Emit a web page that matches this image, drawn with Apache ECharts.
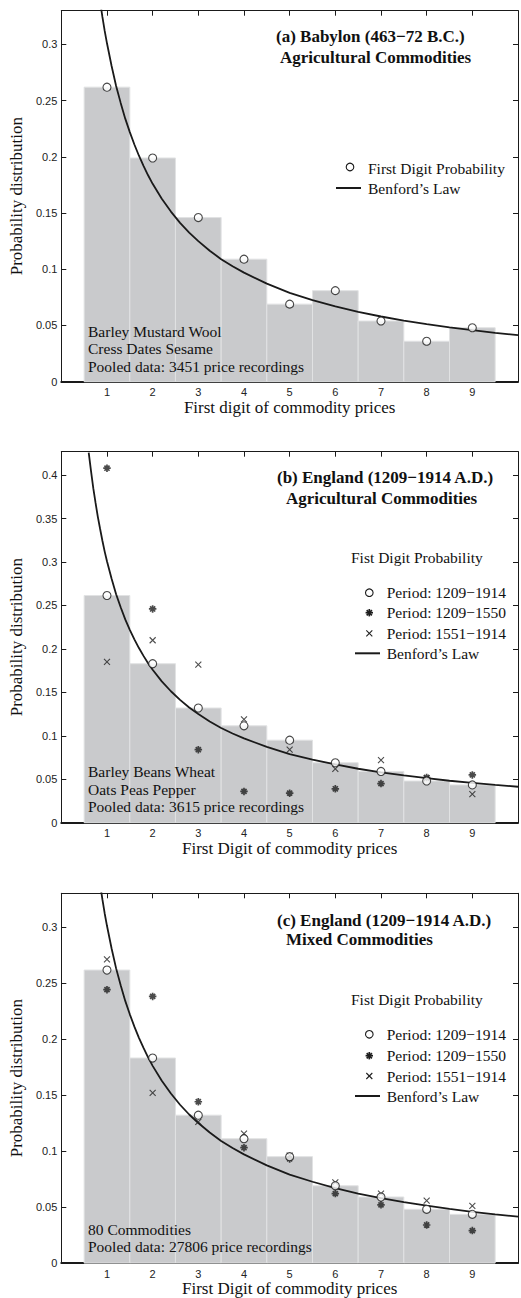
<!DOCTYPE html>
<html>
<head>
<meta charset="utf-8">
<script src="https://cdn.jsdelivr.net/npm/echarts@6/dist/echarts.min.js"></script>
<style>
html, body { margin: 0; padding: 0; background: #fff; }
#chart { width: 521px; height: 1298px; }
</style>
</head>
<body>
<div id="chart"></div>
<script>
// first digits 1..9
const digits = [1, 2, 3, 4, 5, 6, 7, 8, 9];

// (a) Babylon, pooled first digit probability
const babylonProb = [0.262, 0.199, 0.146, 0.109, 0.069, 0.081, 0.054, 0.036, 0.048];

// (b) England agricultural
const agriPooled = [0.2615, 0.183, 0.132, 0.1115, 0.095, 0.069, 0.059, 0.048, 0.0435];
const agriEarly = [0.408, 0.246, 0.084, 0.036, 0.034, 0.039, 0.045, 0.052, 0.055];
const agriLate = [0.185, 0.210, 0.182, 0.119, 0.084, 0.062, 0.072, 0.051, 0.033];

// (c) England mixed
const mixedPooled = [0.2615, 0.183, 0.132, 0.111, 0.095, 0.069, 0.059, 0.048, 0.0435];
const mixedEarly = [0.244, 0.238, 0.144, 0.103, 0.093, 0.062, 0.052, 0.034, 0.029];
const mixedLate = [0.271, 0.152, 0.126, 0.1155, 0.096, 0.072, 0.062, 0.0557, 0.051];

// Benford curve
const benfordX = [0.6, 0.65, 0.7, 0.75, 0.8, 0.85, 0.9, 0.95, 1, 1.1, 1.2, 1.3, 1.4, 1.5, 1.6, 1.7, 1.8, 1.9,
    2, 2.2, 2.4, 2.6, 2.8, 3, 3.25, 3.5, 3.75, 4, 4.5, 5, 5.5, 6, 6.5, 7, 7.5, 8, 8.5, 9, 9.5, 10];
const benfordY = [0.426, 0.405, 0.385, 0.368, 0.352, 0.338, 0.3245, 0.312, 0.301, 0.281, 0.263, 0.248, 0.234, 0.222, 0.211, 0.201, 0.192, 0.1836,
    0.176, 0.1627, 0.1513, 0.1413, 0.1326, 0.125, 0.1165, 0.109, 0.1027, 0.097, 0.0872, 0.079, 0.0726, 0.067, 0.0621, 0.058, 0.0544, 0.0512, 0.0483, 0.0458, 0.0435, 0.0414];

const SERIF = '"Liberation Serif", "DejaVu Serif", serif';
const SANS = '"Liberation Sans", Arial, sans-serif';
const INK = '#1a1a1a';
const STAR = 'path://M5 0 L5 10 M0 5 L10 5 M1.6 1.6 L8.4 8.4 M1.6 8.4 L8.4 1.6';
const CROSS = 'path://M0 0 L10 10 M0 10 L10 0';

const panels = [
    { top: 10.7, height: 371, yMax: 0.33, xName: 'First digit of commodity prices',
      pooled: babylonProb, early: null, late: null },
    { top: 451.7, height: 371, yMax: 0.427, xName: 'First Digit of commodity prices',
      pooled: agriPooled, early: agriEarly, late: agriLate },
    { top: 893.3, height: 371.7, yMax: 0.33, xName: 'First Digit of commodity prices',
      pooled: mixedPooled, early: mixedEarly, late: mixedLate },
];

function pairs(ys) {
    return digits.map((d, i) => [d, ys[i]]);
}

function renderBar(params, api) {
    const x = api.value(0);
    const y = api.value(1);
    const p0 = api.coord([x - 0.5, y]);
    const p1 = api.coord([x + 0.5, 0]);
    return {
        type: 'rect',
        shape: { x: p0[0], y: p0[1], width: p1[0] - p0[0], height: p1[1] - p0[1] },
        style: { fill: '#c9cacc', stroke: '#e1e2e3', lineWidth: 1 }
    };
}

const grid = [], xAxis = [], yAxis = [], series = [];

panels.forEach((p, k) => {
    grid.push({ left: 56, width: 467, top: p.top, height: p.height, show: false });
    const tick = { show: true, inside: true, length: 5, lineStyle: { color: INK, width: 1 } };
    // bottom + top x axes
    xAxis.push({
        type: 'value', gridIndex: k, min: 0, max: 10, interval: 1, position: 'bottom',
        axisLine: { show: true, onZero: false, lineStyle: { color: INK, width: 2 } },
        axisTick: tick, splitLine: { show: false },
        axisLabel: { margin: 5, fontFamily: SANS, fontSize: 11, color: '#222',
            formatter: v => (v >= 1 && v <= 9 ? String(v) : '') },
        name: p.xName, nameLocation: 'middle', nameGap: 15,
        nameTextStyle: { fontFamily: SERIF, fontSize: 17, color: '#111' }
    });
    xAxis.push({
        type: 'value', gridIndex: k, min: 0, max: 10, interval: 1, position: 'top',
        axisLine: { show: true, onZero: false, lineStyle: { color: INK, width: 1 } },
        axisTick: tick, axisLabel: { show: false }, splitLine: { show: false }
    });
    // left + right y axes
    const yfmt = v => {
        const q = v / 0.05;
        return Math.abs(q - Math.round(q)) < 1e-6 ? String(+v.toFixed(2)) : '';
    };
    yAxis.push({
        type: 'value', gridIndex: k, min: 0, max: p.yMax, interval: 0.05, position: 'left',
        axisLine: { show: true, onZero: false, lineStyle: { color: INK, width: 1 } },
        axisTick: tick, splitLine: { show: false },
        axisLabel: { margin: 4, fontFamily: SANS, fontSize: 11, color: '#222', formatter: yfmt, showMaxLabel: false },
        name: 'Probability distribution', nameLocation: 'middle', nameGap: 31,
        nameTextStyle: { fontFamily: SERIF, fontSize: 17, color: '#111' }
    });
    yAxis.push({
        type: 'value', gridIndex: k, min: 0, max: p.yMax, interval: 0.05, position: 'right',
        axisLine: { show: true, onZero: false, lineStyle: { color: INK, width: 1 } },
        axisTick: tick, axisLabel: { show: false }, splitLine: { show: false }
    });

    const xi = k * 2, yi = k * 2;
    series.push({
        type: 'custom', xAxisIndex: xi, yAxisIndex: yi, z: 1,
        renderItem: renderBar, data: pairs(p.pooled)
    });
    series.push({
        type: 'line', xAxisIndex: xi, yAxisIndex: yi, z: 3,
        data: benfordX.map((x, i) => [x, benfordY[i]]),
        smooth: false, showSymbol: false, clip: true,
        lineStyle: { color: INK, width: 1.8 }, silent: true
    });
    series.push({
        type: 'scatter', xAxisIndex: xi, yAxisIndex: yi, z: 5,
        data: pairs(p.pooled), symbol: 'circle', symbolSize: 8,
        itemStyle: { color: '#fff', borderColor: INK, borderWidth: 1.1 }
    });
    if (p.early) {
        series.push({
            type: 'scatter', xAxisIndex: xi, yAxisIndex: yi, z: 4,
            data: pairs(p.early), symbol: STAR, symbolSize: 7.5,
            itemStyle: { color: 'none', borderColor: '#1e1e1e', borderWidth: 1.7 }
        });
        series.push({
            type: 'scatter', xAxisIndex: xi, yAxisIndex: yi, z: 4,
            data: pairs(p.late), symbol: CROSS, symbolSize: 6,
            itemStyle: { color: 'none', borderColor: '#222', borderWidth: 1.1 }
        });
    }
});

// text and legend
function txt(x, y, s, bold) {
    return { type: 'text', x: x, y: y, z: 10,
        style: { text: s, fontFamily: SERIF, fontSize: bold ? 17 : 15.5, fontWeight: bold ? 'bold' : 'normal',
            fill: '#111', align: 'left', verticalAlign: 'middle' } };
}
function circleIcon(x, y) {
    return { type: 'circle', z: 10, shape: { cx: x, cy: y, r: 3.8 },
        style: { fill: '#fff', stroke: INK, lineWidth: 1.1 } };
}
function seg(x1, y1, x2, y2, lw) {
    return { type: 'line', z: 10, shape: { x1: x1, y1: y1, x2: x2, y2: y2 },
        style: { stroke: '#1e1e1e', lineWidth: lw } };
}
function starIcon(x, y) {
    const r = 3.7, d = 2.6;
    return { type: 'group', children: [
        seg(x, y - r, x, y + r, 1.7), seg(x - r, y, x + r, y, 1.7),
        seg(x - d, y - d, x + d, y + d, 1.7), seg(x - d, y + d, x + d, y - d, 1.7)
    ] };
}
function crossIcon(x, y) {
    const r = 3;
    return { type: 'group', children: [
        seg(x - r, y - r, x + r, y + r, 1.1), seg(x - r, y + r, x + r, y - r, 1.1)
    ] };
}
function lineIcon(x0, x1, y) {
    return { type: 'line', z: 10, shape: { x1: x0, y1: y, x2: x1, y2: y },
        style: { stroke: INK, lineWidth: 2 } };
}

const graphic = [
    // (a)
    txt(276, 36, '(a) Babylon (463\u221272 B.C.)', true),
    txt(280, 57, 'Agricultural Commodities', true),
    circleIcon(350, 167), txt(368, 168, 'First Digit Probability'),
    lineIcon(336, 361, 188), txt(368, 188, 'Benford\u2019s Law'),
    txt(88, 331, 'Barley Mustard Wool'),
    txt(88, 348.5, 'Cress Dates Sesame'),
    txt(88, 366, 'Pooled data: 3451 price recordings'),
    // (b)
    txt(277, 477, '(b) England (1209\u22121914 A.D.)', true),
    txt(286, 498, 'Agricultural Commodities', true),
    txt(351, 557, 'Fist Digit Probability'),
    circleIcon(369.3, 592.7), txt(386.7, 592.7, 'Period: 1209\u22121914'),
    starIcon(369.3, 612.7), txt(386.7, 612.7, 'Period: 1209\u22121550'),
    crossIcon(369.3, 633.3), txt(386.7, 633.3, 'Period: 1551\u22121914'),
    lineIcon(355, 380, 653.3), txt(386.7, 653.3, 'Benford\u2019s Law'),
    txt(88, 771.7, 'Barley Beans Wheat'),
    txt(88, 789.3, 'Oats Peas Pepper'),
    txt(88, 806.7, 'Pooled data: 3615 price recordings'),
    // (c)
    txt(277, 920, '(c) England (1209\u22121914 A.D.)', true),
    txt(286, 939.3, 'Mixed Commodities', true),
    txt(351, 999, 'Fist Digit Probability'),
    circleIcon(369.3, 1034.3), txt(386.7, 1034.3, 'Period: 1209\u22121914'),
    starIcon(369.3, 1055.7), txt(386.7, 1055.7, 'Period: 1209\u22121550'),
    crossIcon(369.3, 1076), txt(386.7, 1076, 'Period: 1551\u22121914'),
    lineIcon(355, 380, 1096), txt(386.7, 1096, 'Benford\u2019s Law'),
    txt(88, 1229, '80 Commodities'),
    txt(88, 1246.7, 'Pooled data: 27806 price recordings'),
];

const chart = echarts.init(document.getElementById('chart'), null, { renderer: 'svg' });
chart.setOption({
    animation: false,
    backgroundColor: '#fff',
    grid: grid,
    xAxis: xAxis,
    yAxis: yAxis,
    series: series,
    graphic: graphic
});
</script>
</body>
</html>
